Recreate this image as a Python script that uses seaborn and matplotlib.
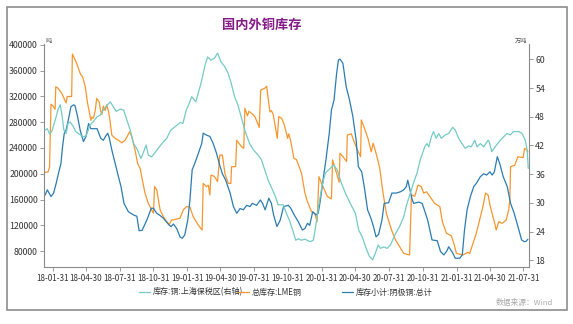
import pandas as pd
import numpy as np
import matplotlib
matplotlib.use("Agg")
import matplotlib.pyplot as plt
import matplotlib.dates as mdates
from matplotlib.lines import Line2D
from matplotlib.patches import Rectangle
import seaborn as sns

# ---------------- data ----------------
title = "国内外铜库存"
series_names = ["库存:铜:上海保税区(右轴)", "总库存:LME铜", "库存小计:阴极铜:总计"]
tick_labels = ["18-01-31", "18-04-30", "18-07-31", "18-10-31", "19-01-31", "19-04-30",
               "19-07-31", "19-10-31", "20-01-31", "20-04-30", "20-07-31", "20-10-31",
               "21-01-31", "21-04-30", "21-07-31"]
left_ticks = [80000, 120000, 160000, 200000, 240000, 280000, 320000, 360000, 400000]
right_ticks = [18, 24, 30, 36, 42, 48, 54, 60]

lme_dates = ["2018-01-10", "2018-01-18", "2018-01-22", "2018-01-26", "2018-02-01", "2018-02-06", "2018-02-08",
             "2018-02-14", "2018-02-24", "2018-03-08", "2018-03-11", "2018-03-23", "2018-03-25", "2018-04-06",
             "2018-04-15", "2018-04-22", "2018-04-29", "2018-05-05", "2018-05-10", "2018-05-14", "2018-05-17",
             "2018-05-21", "2018-05-26", "2018-05-30", "2018-06-06", "2018-06-10", "2018-06-13", "2018-06-17",
             "2018-06-22", "2018-06-26", "2018-07-01", "2018-07-05", "2018-07-10", "2018-07-19", "2018-07-28",
             "2018-08-06", "2018-08-15", "2018-08-21", "2018-08-27", "2018-09-02", "2018-09-11", "2018-09-18",
             "2018-09-25", "2018-10-01", "2018-10-08", "2018-10-17", "2018-10-26", "2018-10-31", "2018-11-03",
             "2018-11-09", "2018-11-18", "2018-11-27", "2018-12-06", "2018-12-13", "2018-12-19", "2018-12-28",
             "2019-01-11", "2019-01-20", "2019-01-29", "2019-02-07", "2019-02-16", "2019-03-02", "2019-03-12",
             "2019-03-15", "2019-03-24", "2019-03-29", "2019-04-02", "2019-04-05", "2019-04-14", "2019-04-23",
             "2019-04-29", "2019-05-06", "2019-05-13", "2019-05-22", "2019-05-29", "2019-05-31", "2019-06-11",
             "2019-06-14", "2019-06-27", "2019-07-03", "2019-07-06", "2019-07-13", "2019-07-17", "2019-07-26",
             "2019-08-02", "2019-08-10", "2019-08-14", "2019-08-18", "2019-08-29", "2019-09-03", "2019-09-12",
             "2019-09-16", "2019-09-21", "2019-10-02", "2019-10-06", "2019-10-14", "2019-10-21", "2019-10-30",
             "2019-11-02", "2019-11-07", "2019-11-16", "2019-11-23", "2019-12-02", "2019-12-07", "2019-12-16",
             "2019-12-22", "2020-01-03", "2020-01-12", "2020-01-18", "2020-01-23", "2020-02-03", "2020-02-15",
             "2020-02-26", "2020-02-29", "2020-03-11", "2020-03-18", "2020-03-20", "2020-03-29", "2020-04-07",
             "2020-04-09", "2020-04-20", "2020-04-26", "2020-05-08", "2020-05-15", "2020-05-17", "2020-05-26",
             "2020-06-04", "2020-06-13", "2020-06-18", "2020-06-27", "2020-07-06", "2020-07-15", "2020-07-24",
             "2020-08-07", "2020-08-18", "2020-08-29", "2020-09-09", "2020-09-17", "2020-09-25", "2020-09-30",
             "2020-10-09", "2020-10-18", "2020-10-27", "2020-11-02", "2020-11-10", "2020-11-19", "2020-12-02",
             "2020-12-16", "2020-12-23", "2021-01-03", "2021-01-16", "2021-01-23", "2021-01-30", "2021-02-17",
             "2021-03-02", "2021-03-07", "2021-03-16", "2021-03-25", "2021-04-03", "2021-04-12", "2021-04-19",
             "2021-04-26", "2021-05-02", "2021-05-14", "2021-05-18", "2021-05-25", "2021-06-03", "2021-06-14",
             "2021-06-21", "2021-06-24", "2021-06-26", "2021-07-07", "2021-07-16", "2021-07-30", "2021-08-03",
             "2021-08-09", "2021-08-12"]
lme_values = [202000, 203000, 210000, 308000, 305000, 300000, 335000,
              333000, 325000, 310000, 320000, 320000, 386000, 371000,
              356000, 350000, 335000, 310000, 296000, 283000, 288000,
              286000, 298000, 317000, 311000, 297000, 292000, 305000,
              298000, 307000, 297000, 283000, 260000, 255000, 252000,
              248000, 252000, 258000, 265000, 258000, 237000, 216000,
              208000, 190000, 170000, 154000, 144000, 138600, 180000,
              175000, 144000, 133000, 125600, 121000, 128000, 129000,
              131000, 144000, 149000, 148000, 133000, 120000, 112600,
              185000, 180000, 182000, 167000, 198000, 196000, 188000,
              229000, 229000, 200000, 185000, 185000, 211000, 211000,
              252000, 242000, 239500, 301700, 290000, 297000, 293000,
              288800, 278000, 272000, 330000, 332700, 336000, 296000,
              298000, 292000, 255000, 288800, 286000, 276000, 255000,
              262000, 252000, 224000, 222000, 208500, 200000, 170000,
              158000, 141000, 138600, 125600, 195500, 180000, 164600,
              161000, 221500, 200000, 186700, 232000, 226000, 219000,
              260000, 262000, 252000, 235000, 226500, 283500, 270000,
              255000, 234000, 247400, 230000, 208500, 170000, 138600,
              112600, 97000, 86700, 76400, 75000, 74000, 167000,
              165000, 182500, 180000, 170000, 172000, 164600, 154000,
              149000, 125600, 107500, 104000, 92000, 76400, 74000,
              78000, 76000, 92000, 107500, 128000, 149000, 170000,
              167000, 149000, 123000, 112600, 125600, 123000, 128000,
              144000, 160000, 211000, 213000, 226500, 225000, 239500,
              237000, 234000]

shfe_dates = ["2018-01-10", "2018-01-16", "2018-01-26", "2018-02-02", "2018-02-09", "2018-02-15", "2018-02-22",
              "2018-02-26", "2018-03-03", "2018-03-08", "2018-03-14", "2018-03-21", "2018-03-28", "2018-04-01",
              "2018-04-08", "2018-04-15", "2018-04-24", "2018-05-01", "2018-05-08", "2018-05-14", "2018-05-21",
              "2018-05-31", "2018-06-10", "2018-06-17", "2018-06-23", "2018-06-29", "2018-07-03", "2018-07-10",
              "2018-07-19", "2018-07-28", "2018-08-04", "2018-08-12", "2018-08-24", "2018-09-07", "2018-09-16",
              "2018-09-22", "2018-09-30", "2018-10-13", "2018-10-25", "2018-10-31", "2018-11-09", "2018-11-16",
              "2018-11-27", "2018-12-04", "2018-12-13", "2018-12-18", "2018-12-24", "2019-01-02", "2019-01-11",
              "2019-01-17", "2019-01-24", "2019-02-01", "2019-02-07", "2019-02-13", "2019-02-20", "2019-03-02",
              "2019-03-11", "2019-03-15", "2019-03-24", "2019-04-02", "2019-04-11", "2019-04-20", "2019-04-29",
              "2019-05-06", "2019-05-15", "2019-05-27", "2019-06-05", "2019-06-14", "2019-06-23", "2019-07-02",
              "2019-07-11", "2019-07-20", "2019-07-26", "2019-08-07", "2019-08-17", "2019-08-23", "2019-08-30",
              "2019-09-09", "2019-09-16", "2019-09-22", "2019-10-01", "2019-10-10", "2019-10-19", "2019-11-01",
              "2019-11-07", "2019-11-17", "2019-11-28", "2019-12-09", "2019-12-16", "2019-12-23", "2019-12-29",
              "2020-01-06", "2020-01-15", "2020-01-21", "2020-01-27", "2020-02-03", "2020-02-11", "2020-02-20",
              "2020-02-26", "2020-03-04", "2020-03-11", "2020-03-16", "2020-03-20", "2020-03-28", "2020-04-06",
              "2020-04-15", "2020-04-24", "2020-05-03", "2020-05-09", "2020-05-18", "2020-05-25", "2020-06-03",
              "2020-06-12", "2020-06-19", "2020-06-26", "2020-07-03", "2020-07-12", "2020-07-18", "2020-07-30",
              "2020-08-08", "2020-08-20", "2020-08-31", "2020-09-09", "2020-09-16", "2020-09-20", "2020-09-24",
              "2020-10-02", "2020-10-06", "2020-10-20", "2020-10-29", "2020-11-04", "2020-11-13", "2020-11-19",
              "2020-11-25", "2020-12-09", "2020-12-18", "2020-12-27", "2021-01-05", "2021-01-09", "2021-01-19",
              "2021-01-27", "2021-02-08", "2021-02-15", "2021-02-21", "2021-02-28", "2021-03-09", "2021-03-18",
              "2021-03-25", "2021-04-05", "2021-04-14", "2021-04-22", "2021-05-01", "2021-05-07", "2021-05-13",
              "2021-05-21", "2021-05-28", "2021-06-06", "2021-06-17", "2021-06-26", "2021-07-05", "2021-07-16",
              "2021-07-26", "2021-08-02", "2021-08-07", "2021-08-12"]
shfe_values = [167000, 175000, 164600, 170000, 185000, 200000, 216000,
               240000, 263000, 268000, 283500, 304000, 307000, 306000,
               289000, 268000, 250000, 258000, 278000, 270000, 270000,
               270000, 255000, 252000, 258000, 263000, 256000, 237000,
               216000, 195500, 180000, 154000, 141000, 136000, 134000,
               111600, 112000, 128000, 146400, 146400, 138600, 136000,
               131000, 126000, 120000, 118000, 122000, 115000, 102000,
               99800, 105000, 128000, 159300, 206000, 216000, 232000,
               247000, 263000, 260000, 258000, 247000, 232000, 213000,
               200000, 190000, 170000, 149000, 138600, 146000, 144000,
               151000, 149000, 154000, 151000, 159300, 154000, 144000,
               162000, 154000, 136000, 118000, 128000, 149000, 151000,
               147000, 136000, 125600, 112600, 115000, 123000, 120000,
               141000, 136000, 138600, 159300, 190000, 221500, 263000,
               299000, 314600, 356000, 376700, 378000, 371600, 335000,
               314600, 289000, 252000, 211000, 203000, 180000, 144000,
               131000, 118000, 102000, 106000, 128000, 154000, 155000,
               170000, 170000, 172000, 175000, 180000, 190000, 180000,
               160000, 154000, 156000, 154000, 144000, 128000, 112600,
               97200, 96000, 79000, 74000, 81000, 86700, 78000,
               68800, 68800, 74000, 112600, 144000, 164600, 180000,
               185000, 195500, 200000, 198000, 203000, 198000, 203000,
               226500, 215000, 195500, 180000, 154000, 140000, 118000,
               97200, 94600, 95000, 98400]

bonded_dates = ["2018-01-10", "2018-01-16", "2018-01-22", "2018-01-28", "2018-02-09", "2018-02-14", "2018-02-20",
                "2018-02-25", "2018-03-02", "2018-03-08", "2018-03-13", "2018-03-19", "2018-03-28", "2018-04-03",
                "2018-04-10", "2018-04-24", "2018-05-01", "2018-05-06", "2018-05-12", "2018-05-21", "2018-05-31",
                "2018-06-08", "2018-06-17", "2018-06-26", "2018-07-06", "2018-07-15", "2018-07-22", "2018-08-02",
                "2018-08-11", "2018-08-20", "2018-08-29", "2018-09-07", "2018-09-16", "2018-09-27", "2018-10-04",
                "2018-10-11", "2018-10-17", "2018-10-26", "2018-11-09", "2018-11-23", "2018-12-06", "2018-12-17",
                "2019-01-04", "2019-01-12", "2019-01-19", "2019-01-28", "2019-02-04", "2019-02-12", "2019-02-18",
                "2019-02-23", "2019-03-02", "2019-03-09", "2019-03-20", "2019-03-27", "2019-04-05", "2019-04-14",
                "2019-04-23", "2019-05-02", "2019-05-12", "2019-05-21", "2019-05-30", "2019-06-08", "2019-06-17",
                "2019-06-26", "2019-07-07", "2019-07-19", "2019-07-30", "2019-08-11", "2019-08-20", "2019-08-29",
                "2019-09-07", "2019-09-19", "2019-09-27", "2019-10-04", "2019-10-18", "2019-10-27", "2019-11-05",
                "2019-11-14", "2019-11-21", "2019-11-29", "2019-12-05", "2019-12-16", "2019-12-30", "2020-01-08",
                "2020-01-14", "2020-01-22", "2020-01-31", "2020-02-09", "2020-02-20", "2020-03-03", "2020-03-12",
                "2020-03-24", "2020-04-04", "2020-04-17", "2020-05-01", "2020-05-10", "2020-05-19", "2020-05-30",
                "2020-06-08", "2020-06-17", "2020-06-24", "2020-07-02", "2020-07-08", "2020-07-17", "2020-07-26",
                "2020-08-04", "2020-08-18", "2020-08-28", "2020-09-09", "2020-09-18", "2020-09-27", "2020-10-07",
                "2020-10-15", "2020-10-24", "2020-11-05", "2020-11-11", "2020-11-16", "2020-11-23", "2020-11-29",
                "2020-12-06", "2020-12-13", "2020-12-20", "2020-12-31", "2021-01-09", "2021-01-20", "2021-01-27",
                "2021-02-05", "2021-02-14", "2021-02-23", "2021-03-04", "2021-03-11", "2021-03-21", "2021-03-27",
                "2021-04-05", "2021-04-14", "2021-04-26", "2021-04-29", "2021-05-06", "2021-05-15", "2021-05-26",
                "2021-06-07", "2021-06-16", "2021-06-25", "2021-07-04", "2021-07-19", "2021-07-27", "2021-08-05",
                "2021-08-10", "2021-08-13"]
bonded_values = [45.2, 45.5, 44.4, 44.9, 48.0, 49.5, 50.5,
                 48.2, 45.2, 44.5, 46.6, 46.9, 45.9, 44.9,
                 44.5, 43.8, 44.0, 45.0, 46.3, 47.0, 48.0,
                 48.3, 49.4, 50.3, 51.1, 50.0, 49.1, 49.6,
                 49.4, 47.3, 45.2, 42.4, 41.3, 39.3, 40.6,
                 42.1, 40.0, 39.6, 41.0, 42.4, 43.5, 45.2,
                 46.3, 46.8, 46.6, 49.4, 50.6, 52.2, 51.6,
                 51.1, 53.1, 55.0, 58.8, 60.5, 59.8, 60.2,
                 61.3, 59.5, 58.5, 57.2, 55.0, 52.2, 50.5,
                 48.0, 44.9, 42.4, 41.0, 40.0, 39.0, 36.9,
                 34.8, 32.7, 31.3, 29.6, 29.6, 27.8, 26.1,
                 24.0, 22.2, 22.5, 22.2, 22.4, 21.9, 22.2,
                 25.0, 29.2, 33.4, 36.2, 37.0, 37.9, 37.0,
                 34.1, 32.0, 29.9, 27.8, 24.3, 23.0, 20.5,
                 18.8, 18.1, 19.5, 21.2, 20.5, 20.8, 20.5,
                 21.2, 23.6, 24.9, 27.1, 29.9, 32.0, 34.5,
                 36.2, 39.0, 41.7, 42.4, 41.7, 43.8, 44.9,
                 43.5, 44.5, 43.5, 44.2, 44.5, 45.8, 45.2,
                 43.5, 42.4, 41.4, 41.9, 41.7, 43.1, 41.7,
                 42.4, 41.7, 43.1, 42.8, 40.7, 41.7, 42.8,
                 43.8, 44.5, 44.2, 44.9, 44.9, 44.5, 43.1,
                 41.0, 37.2]

# ---------------- style ----------------
sns.set_theme(style="white")
plt.rcParams["font.family"] = ["Noto Sans CJK SC", "DejaVu Sans"]
plt.rcParams["axes.unicode_minus"] = False

c_teal = "#74cbc6"
c_orange = "#f7962f"
c_blue = "#2b7cb3"
axis_col = "#8a8a8a"
txt_col = "#333333"

W, H = 573, 324
fig = plt.figure(figsize=(W / 100, H / 100), dpi=100)
ax = fig.add_axes([44 / W, 1 - 267 / H, (529 - 44) / W, (267 - 44) / H])
ax2 = ax.twinx()

df_lme = pd.DataFrame({"date": pd.to_datetime(lme_dates), "value": lme_values})
df_shfe = pd.DataFrame({"date": pd.to_datetime(shfe_dates), "value": shfe_values})
df_bonded = pd.DataFrame({"date": pd.to_datetime(bonded_dates), "value": bonded_values})

sns.lineplot(data=df_lme, x="date", y="value", ax=ax, color=c_orange, linewidth=0.9, legend=False)
sns.lineplot(data=df_shfe, x="date", y="value", ax=ax, color=c_blue, linewidth=0.9, legend=False)
sns.lineplot(data=df_bonded, x="date", y="value", ax=ax2, color=c_teal, linewidth=0.9, legend=False)

ax.set_xlim(pd.Timestamp("2018-01-07"), pd.Timestamp("2021-08-15"))
ax.set_ylim(55200, 401500)
ax2.set_ylim(16.6, 63.2)

tick_dates = pd.to_datetime(["20" + t for t in tick_labels])
ax.set_xticks(tick_dates)
ax.set_xticklabels(tick_labels)
ax.set_yticks(left_ticks)
ax.set_yticklabels([str(v) for v in left_ticks])
ax2.set_yticks(right_ticks)
ax2.set_yticklabels([str(v) for v in right_ticks])

for a in (ax, ax2):
    a.set_xlabel("")
    a.set_ylabel("")
    a.grid(False)
    for s in a.spines.values():
        s.set_visible(False)
    a.patch.set_visible(False)

ax.spines["left"].set_visible(True)
ax.spines["bottom"].set_visible(True)
ax.spines["left"].set_color(axis_col)
ax.spines["bottom"].set_color(axis_col)
ax.spines["left"].set_linewidth(0.8)
ax.spines["bottom"].set_linewidth(0.8)
ax2.spines["right"].set_visible(True)
ax2.spines["right"].set_color(axis_col)
ax2.spines["right"].set_linewidth(0.8)

ax.tick_params(axis="y", which="both", left=True, length=3, width=0.6, color=axis_col,
               labelsize=6.3, labelcolor=txt_col, pad=1.5)
ax.tick_params(axis="x", which="both", bottom=True, length=3, width=0.6, color=axis_col,
               labelsize=5.8, labelcolor=txt_col, pad=2)
ax2.tick_params(axis="y", which="both", right=True, length=3, width=0.6, color=axis_col,
                labelsize=6.3, labelcolor=txt_col, pad=1.5)

# units
fig.text(46 / W, 1 - 41 / H, "吨", fontsize=4.5, color="#555555", ha="left", va="center")
fig.text(527 / W, 1 - 41 / H, "万吨", fontsize=4.5, color="#555555", ha="right", va="center")

# title
fig.text(262 / W, 1 - 25 / H, title, fontsize=9.5, fontweight="bold", color="#851b86",
         ha="center", va="center")

# legend entries
legend_x = [139, 238, 342]
for name, col, lx in zip(series_names, [c_teal, c_orange, c_blue], legend_x):
    h = Line2D([], [], color=col, linewidth=0.9)
    fig.legend([h], [name], loc="center left", bbox_to_anchor=(lx / W, 1 - 292 / H),
               frameon=False, fontsize=5.8, handlelength=1.4, handletextpad=0.3,
               borderpad=0, borderaxespad=0, labelcolor=txt_col)

# source
fig.text(553 / W, 1 - 303 / H, "数据来源：Wind", fontsize=5.6, color="#aaaaaa",
         ha="right", va="center")

# outer frame
fig.patches.append(Rectangle((7 / W, 1 - 310 / H), (567 - 7) / W, (310 - 7) / H,
                             transform=fig.transFigure, fill=False,
                             edgecolor="#8c8c8c", linewidth=1.2))

fig.savefig("out.png", dpi=100)
